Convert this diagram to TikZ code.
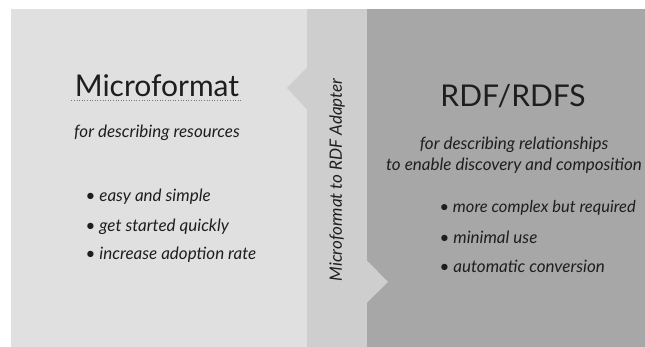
\documentclass[tikz,border=0pt]{standalone}
\usepackage{fontspec}
\setmainfont{Lato}
\usetikzlibrary{positioning}
\definecolor{panelleft}{RGB}{224,224,224}
\definecolor{panelmid}{RGB}{206,206,206}
\definecolor{panelright}{RGB}{167,167,167}
\definecolor{ink}{RGB}{30,30,30}
\begin{document}
\begin{tikzpicture}[x=1pt, y=1pt,
    title/.style={font=\fontsize{30}{34}\selectfont, text=ink, anchor=base},
    subtext/.style={font=\fontsize{17}{21}\selectfont\itshape, text=ink, align=center},
    item/.style={font=\fontsize{17}{19}\selectfont\itshape, text=ink, anchor=west}]
    \useasboundingbox (0,0) rectangle (645,347);

    % panels
    \fill[panelleft] (11,0) rectangle (307,338);
    \fill[panelmid] (307,0) rectangle (367,338);
    \fill[panelright] (367,0) rectangle (645,338);
    \fill[panelmid] (307.5,280) -- (287,259) -- (307.5,237) -- cycle;
    \fill[panelmid] (366.5,87) -- (388,65) -- (366.5,44) -- cycle;

    % left side
    \node[title] (mf) at (157,250) {Microformat};
    \draw[ink!60, dotted, line width=0.6pt] ([yshift=-3pt]mf.base west) -- ([yshift=-3pt]mf.base east);
    \node[subtext, anchor=base] (mfsub) at (157,209) {for describing resources};
    \node[item] (mfa) at (82,150) {\textbullet\ easy and simple};
    \node[item] (mfb) at (82,120) {\textbullet\ get started quickly};
    \node[item] (mfc) at (82,92) {\textbullet\ increase adoption rate};

    % adapter band
    \node[subtext, rotate=90] (adapter) at (337,167) {Microformat to RDF Adapter};

    % right side
    \node[title] (rdf) at (513,240) {RDF/RDFS};
    \node[subtext] (rdfsub) at (514,191.5) {for describing relationships\\to enable discovery and composition};
    \node[item, font=\fontsize{16.5}{19}\selectfont\itshape] (rdfa) at (436,139) {\textbullet\ more complex but required};
    \node[item] (rdfb) at (436,110) {\textbullet\ minimal use};
    \node[item] (rdfc) at (436,81) {\textbullet\ automatic conversion};
\end{tikzpicture}
\end{document}
